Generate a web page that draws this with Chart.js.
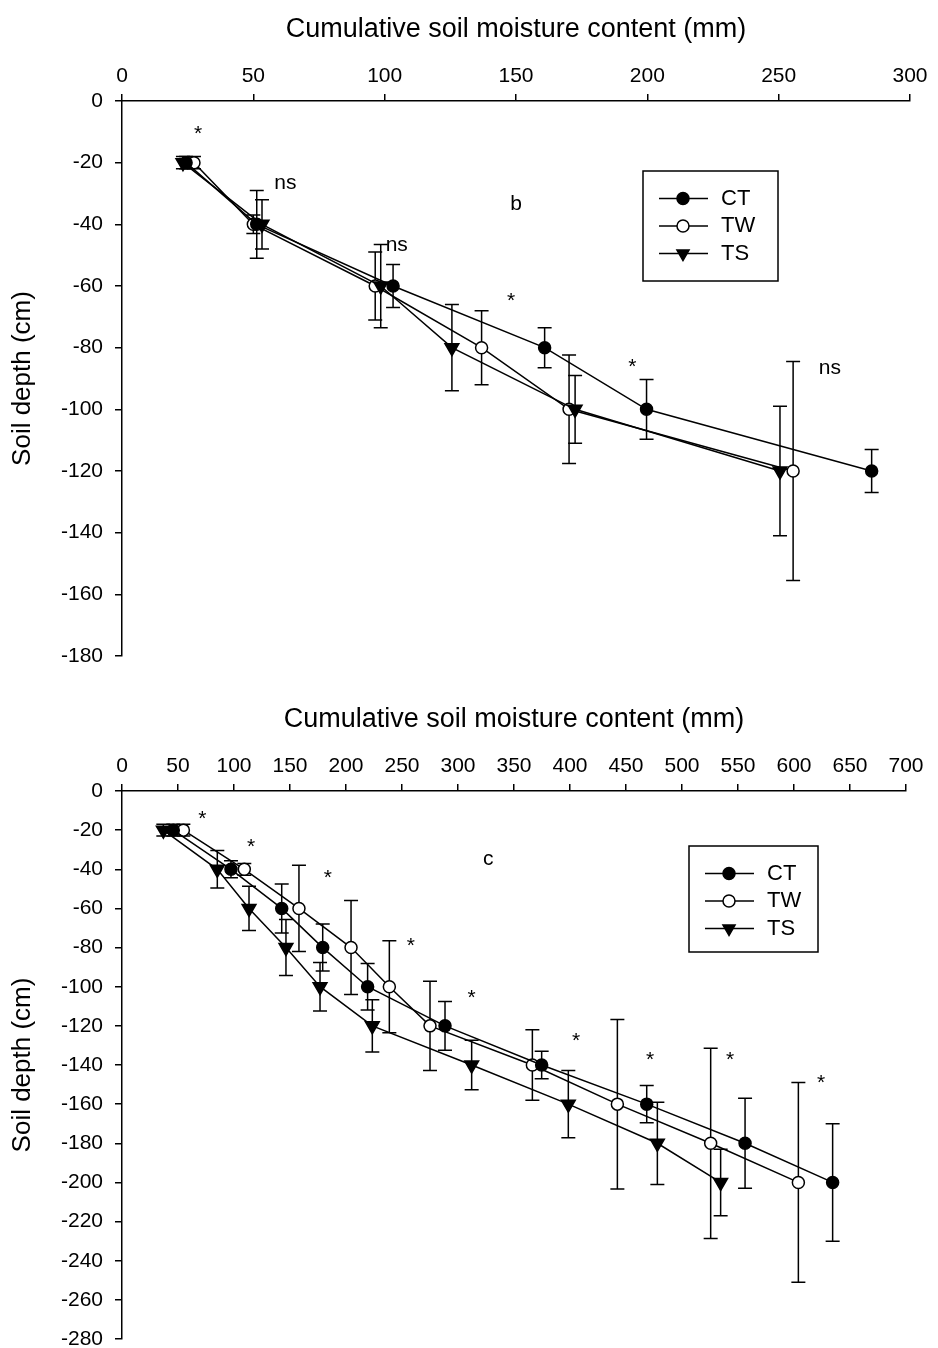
<!DOCTYPE html>
<html lang="en">
<head>
<meta charset="UTF-8">
<title>Cumulative soil moisture content</title>
<script src="https://cdn.jsdelivr.net/npm/chart.js"></script>
<style>
  body { margin: 0; background: #fff; overflow: hidden; }
  #wrapB { position: absolute; left: 0; top: 0; }
  #wrapC { position: absolute; left: 0; top: 690px; }
</style>
</head>
<body>
<div id="wrapB"><canvas id="chartB" width="938" height="690"></canvas></div>
<div id="wrapC"><canvas id="chartC" width="938" height="680"></canvas></div>
<script>
const seriesNames = ['CT', 'TW', 'TS'];
const xTitle = 'Cumulative soil moisture content (mm)';
const yTitle = 'Soil depth (cm)';

// panel b
const depthB = [-20, -40, -60, -80, -100, -120];
const ctB = [24.4, 51.3, 103.2, 160.9, 199.7, 285.4];
const twB = [27.4, 50.0, 96.4, 136.9, 170.2, 255.5];
const tsB = [23.2, 53.3, 98.5, 125.6, 172.5, 250.5];
const ctBErr = [2, 11, 7, 6.5, 9.7, 7];
const twBErr = [2, 3, 11, 12, 17.6, 35.5];
const tsBErr = [2, 8, 13.5, 14, 11, 21];
const notesB = ['*', 'ns', 'b', 'ns', '*', '*', 'ns'];
const notesBX = [29, 62.2, 150, 104.6, 148.1, 194.3, 269.5];
const notesBY = [-12.7, -28.6, -35.2, -48.5, -66.8, -88.2, -88.5];

// panel c
const depthC = [-20, -40, -60, -80, -100, -120, -140, -160, -180, -200];
const ctC = [45.8, 97.3, 142.6, 179.2, 219.3, 288.4, 374.7, 468.5, 556.3, 634.5];
const twC = [54.8, 109.2, 158, 204.5, 238.7, 275, 366.4, 442.3, 525.6, 603.9];
const tsC = [36.9, 85.1, 113.4, 146.4, 176.8, 223.5, 312.2, 398.5, 478, 534.5];
const ctCErr = [3, 4.3, 12.5, 12, 11.9, 12.4, 7, 9.5, 23, 30];
const twCErr = [3, 3, 22, 24, 23.5, 22.8, 18, 43.3, 48.6, 51];
const tsCErr = [3, 9.6, 11.3, 14.3, 12.4, 13.4, 12.6, 17.2, 21, 17];
const notesC = ['*', '*', '*', '*', '*', '*', '*', '*', '*', 'c'];
const notesCX = [71.7, 115.2, 183.7, 258, 312.2, 405.4, 471.4, 542.9, 624.1, 327];
const notesCY = [-17.2, -31.7, -47.4, -82.4, -108.8, -130.9, -140.7, -140.7, -152.3, -37.6];

const FONT = "'Liberation Sans', Arial, sans-serif";
Chart.defaults.font.family = FONT;
Chart.defaults.color = '#000';

function marker(ctx, i, x, y) {
  ctx.beginPath();
  if (i === 2) {
    const r = 7;
    ctx.moveTo(x, y + r);
    ctx.lineTo(x - r * 0.866, y - r / 2);
    ctx.lineTo(x + r * 0.866, y - r / 2);
    ctx.closePath();
  } else {
    ctx.arc(x, y, 6, 0, Math.PI * 2);
  }
  ctx.fillStyle = i === 1 ? '#fff' : '#000';
  ctx.fill();
  ctx.stroke();
}

const extras = {
  id: 'extras',
  beforeDatasetsDraw(chart, args, opts) {
    const { ctx, scales: { x, y } } = chart;
    ctx.save();
    ctx.strokeStyle = '#000';
    ctx.lineWidth = 1.5;
    opts.errors.forEach((errs, i) => {
      chart.data.datasets[i].data.forEach((p, k) => {
        const px = x.getPixelForValue(p.x);
        const top = y.getPixelForValue(p.y + errs[k]);
        const bot = y.getPixelForValue(p.y - errs[k]);
        ctx.beginPath();
        ctx.moveTo(px, top); ctx.lineTo(px, bot);
        ctx.moveTo(px - 7, top); ctx.lineTo(px + 7, top);
        ctx.moveTo(px - 7, bot); ctx.lineTo(px + 7, bot);
        ctx.stroke();
      });
    });
    ctx.restore();
  },
  afterDraw(chart, args, opts) {
    const { ctx, scales: { x, y } } = chart;
    ctx.save();
    ctx.fillStyle = '#000';
    ctx.font = '21px ' + FONT;
    ctx.textAlign = 'center';
    ctx.textBaseline = 'alphabetic';
    opts.notes.forEach((t, k) => {
      ctx.fillText(t, x.getPixelForValue(opts.notesX[k]), y.getPixelForValue(opts.notesY[k]));
    });

    // legend box inside the plot
    const b = opts.box;
    ctx.strokeStyle = '#000';
    ctx.lineWidth = 1.5;
    ctx.strokeRect(b.left, b.top, b.width, b.height);
    ctx.font = '22px ' + FONT;
    ctx.textAlign = 'left';
    ctx.textBaseline = 'middle';
    seriesNames.forEach((name, i) => {
      const ly = b.top + 27.5 + i * 27.5;
      ctx.beginPath();
      ctx.moveTo(b.left + 16, ly); ctx.lineTo(b.left + 65, ly);
      ctx.stroke();
      marker(ctx, i, b.left + 40, ly);
      ctx.fillStyle = '#000';
      ctx.fillText(name, b.left + 78, ly);
    });
    ctx.restore();
  }
};

function build(id, depth, values, errors, xMax, xStep, yMin, notes, notesX, notesY, box, pad) {
  const datasets = seriesNames.map((name, i) => ({
    label: name,
    data: depth.map((d, k) => ({ x: values[i][k], y: d })),
    borderColor: '#000',
    borderWidth: 1.5,
    pointStyle: i === 2 ? 'triangle' : 'circle',
    pointRotation: i === 2 ? 180 : 0,
    pointRadius: i === 2 ? 8 : 6,
    pointBackgroundColor: i === 1 ? '#fff' : '#000',
    pointBorderColor: '#000',
    pointBorderWidth: 1.5,
    order: [1, 2, 0][i],
    tension: 0
  }));

  new Chart(document.getElementById(id), {
    type: 'line',
    data: { datasets },
    plugins: [extras],
    options: {
      responsive: false,
      animation: false,
      events: [],
      layout: { padding: pad },
      scales: {
        x: {
          type: 'linear',
          position: 'top',
          min: 0,
          max: xMax,
          afterFit: s => { s.height = 101; },
          ticks: { stepSize: xStep, padding: 5, font: { size: 21 } },
          grid: { drawOnChartArea: false, tickLength: 7, color: '#000', lineWidth: 1.5 },
          border: { color: '#000', width: 1.5 },
          title: { display: true, text: xTitle, font: { size: 27 }, padding: { top: 13, bottom: 0 } }
        },
        y: {
          type: 'linear',
          min: yMin,
          max: 0,
          afterFit: s => { s.width = 122; },
          ticks: { stepSize: 20, padding: 12, font: { size: 21 } },
          grid: { drawOnChartArea: false, tickLength: 7, color: '#000', lineWidth: 1.5 },
          border: { color: '#000', width: 1.5 },
          title: { display: true, text: yTitle, font: { size: 26 }, padding: { top: 7, bottom: 0 } }
        }
      },
      plugins: {
        legend: { display: false },
        tooltip: { enabled: false },
        extras: { errors, notes, notesX, notesY, box }
      }
    }
  });
}

build('chartB', depthB, [ctB, twB, tsB], [ctBErr, twBErr, tsBErr], 300, 50, -180,
  notesB, notesBX, notesBY,
  { left: 643, top: 171, width: 135, height: 110 },
  { left: 0, top: 0, right: 28, bottom: 34 });

build('chartC', depthC, [ctC, twC, tsC], [ctCErr, twCErr, tsCErr], 700, 50, -280,
  notesC, notesCX, notesCY,
  { left: 689, top: 156, width: 129, height: 106 },
  { left: 0, top: 0, right: 32, bottom: 31 });
</script>
</body>
</html>
